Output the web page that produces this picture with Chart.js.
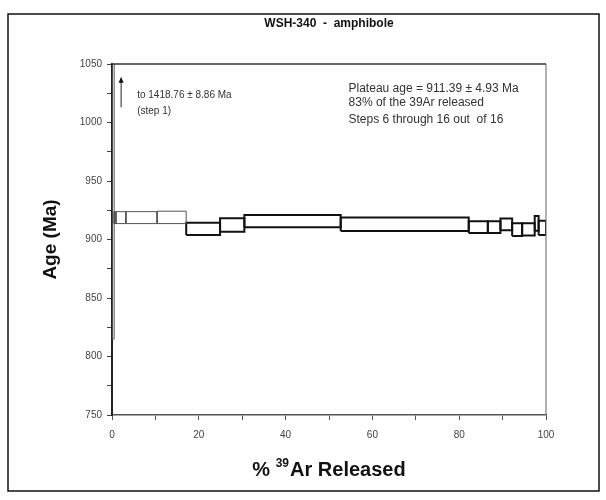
<!DOCTYPE html>
<html>
<head>
<meta charset="utf-8">
<script src="https://cdn.jsdelivr.net/npm/chart.js@4.4.0/dist/chart.umd.min.js"></script>
<style>
  html, body { margin: 0; padding: 0; background: #fff; }
</style>
</head>
<body>
<canvas id="spectrumChart" width="606" height="500"></canvas>
<script>
// cumulative % 39Ar released at the edges of the 16 heating steps
const stepEdges = [0, 0.5, 0.9, 3.2, 10.4, 17.1, 24.9, 30.5, 52.7, 82.2, 86.6, 89.5, 92.2, 94.5, 97.4, 98.3, 100];
// bottom and top of each step box (Ma)
const ageLow  = [815, 913.6, 913.6, 913.6, 913.6, 903.8, 906.7, 910.4, 907.3, 905.5, 905.5, 908.0, 903.0, 903.5, 907.5, 903.8];
const ageHigh = [1418.76, 923.8, 923.8, 923.8, 924.2, 914.4, 918.1, 921.0, 918.7, 915.5, 915.5, 918.0, 913.8, 913.8, 920.0, 916.0];
const plateauSteps = [6, 7, 8, 9, 10, 11, 12, 13, 14, 15, 16];

const xTickLabels = [0, 20, 40, 60, 80, 100];
const yTickLabels = [750, 800, 850, 900, 950, 1000, 1050];

const chartTitle = "WSH-340  -  amphibole";
const step1Note = ["to 1418.76 \u00b1 8.86 Ma", "(step 1)"];
const plateauNote = ["Plateau age = 911.39 \u00b1 4.93 Ma", "83% of the 39Ar released", "Steps 6 through 16 out  of 16"];

const FONT = '"Liberation Sans", Arial, sans-serif';

// one closed box per step
const datasets = ageLow.map((lo, i) => {
  const step = i + 1;
  const x0 = stepEdges[i], x1 = stepEdges[i + 1], hi = ageHigh[i];
  const inPlateau = plateauSteps.includes(step);
  return {
    label: "Step " + step,
    data: [{x: x0, y: lo}, {x: x1, y: lo}, {x: x1, y: hi}, {x: x0, y: hi}, {x: x0, y: lo}],
    showLine: true,
    borderColor: inPlateau ? "#111" : "#555",
    borderWidth: inPlateau ? 2 : 1,
    borderJoinStyle: "miter",
    pointRadius: 0,
    fill: false
  };
});

// frame, title, plot border, notes, arrow and x title
const decorations = {
  id: "decorations",
  afterDraw(chart) {
    const {ctx, chartArea: a, scales: {x, y}} = chart;
    ctx.save();

    // outer frame
    ctx.strokeStyle = "#111";
    ctx.lineWidth = 1.5;
    ctx.strokeRect(8, 14, 591, 477);

    // title, centred over the plot
    ctx.fillStyle = "#111";
    ctx.textAlign = "center";
    ctx.textBaseline = "middle";
    ctx.font = "bold 12px " + FONT;
    ctx.fillText(chartTitle, (a.left + a.right) / 2, 24);

    // top and right edges of plot
    ctx.strokeStyle = "#333";
    ctx.lineWidth = 1.5;
    ctx.beginPath();
    ctx.moveTo(a.left, a.top);
    ctx.lineTo(a.right, a.top);
    ctx.stroke();
    ctx.lineWidth = 1;
    ctx.strokeStyle = "#666";
    ctx.beginPath();
    ctx.moveTo(a.right, a.top);
    ctx.lineTo(a.right, a.bottom);
    ctx.stroke();

    // arrow for step 1
    const ax = x.getPixelForValue(2.1);
    const ay0 = y.getPixelForValue(1013), ay1 = y.getPixelForValue(1039);
    ctx.strokeStyle = "#222";
    ctx.lineWidth = 1;
    ctx.beginPath();
    ctx.moveTo(ax, ay0);
    ctx.lineTo(ax, ay1 + 4);
    ctx.stroke();
    ctx.fillStyle = "#111";
    ctx.beginPath();
    ctx.moveTo(ax, ay1);
    ctx.lineTo(ax - 2.5, ay1 + 6);
    ctx.lineTo(ax + 2.5, ay1 + 6);
    ctx.closePath();
    ctx.fill();

    // notes
    ctx.fillStyle = "#333";
    ctx.textBaseline = "middle";
    ctx.textAlign = "left";
    ctx.font = "10px " + FONT;
    ctx.fillText(step1Note[0], x.getPixelForValue(5.8), y.getPixelForValue(1023.5));
    ctx.fillText(step1Note[1], x.getPixelForValue(5.8), y.getPixelForValue(1010));
    ctx.font = "12px " + FONT;
    [1029.2, 1016.6, 1002.7].forEach((v, i) => {
      ctx.fillText(plateauNote[i], x.getPixelForValue(54.5), y.getPixelForValue(v));
    });

    // x title with superscript 39
    ctx.fillStyle = "#111";
    ctx.textBaseline = "alphabetic";
    const big = "bold 20px " + FONT, small = "bold 12px " + FONT;
    const p1 = "% ", p2 = "39", p3 = "Ar Released";
    ctx.font = big;
    const w1 = ctx.measureText(p1).width, w3 = ctx.measureText(p3).width;
    ctx.font = small;
    const w2 = ctx.measureText(p2).width + 1;
    let tx = (a.left + a.right) / 2 - (w1 + w2 + w3) / 2;
    const base = 476;
    ctx.font = big;
    ctx.fillText(p1, tx, base);
    ctx.font = small;
    ctx.fillText(p2, tx + w1, base - 9);
    ctx.font = big;
    ctx.fillText(p3, tx + w1 + w2, base);

    ctx.restore();
  }
};

new Chart(document.getElementById("spectrumChart"), {
  type: "scatter",
  data: { datasets: datasets },
  options: {
    responsive: false,
    animation: false,
    layout: { padding: { left: 0, right: 60, top: 64, bottom: 0 } },
    plugins: {
      legend: { display: false },
      tooltip: { enabled: false },
      title: { display: false }
    },
    scales: {
      x: {
        type: "linear",
        min: 0,
        max: 100,
        afterFit(scale) { scale.height = 85; },
        ticks: {
          stepSize: 10,
          autoSkip: false,
          maxRotation: 0,
          padding: 9,
          color: "#444",
          font: { family: FONT, size: 10 },
          callback: v => xTickLabels.includes(v) ? String(v) : ""
        },
        grid: { drawOnChartArea: false, tickLength: 5, color: "#555" },
        border: { color: "#555", width: 1.5 }
      },
      y: {
        min: 750,
        max: 1050,
        afterFit(scale) { scale.width = 112; },
        ticks: {
          stepSize: 25,
          autoSkip: false,
          padding: 5,
          color: "#444",
          font: { family: FONT, size: 10 },
          callback: v => yTickLabels.includes(v) ? String(v) : ""
        },
        grid: { drawOnChartArea: false, tickLength: 5, color: "#444" },
        border: { color: "#222", width: 2 },
        title: {
          display: true,
          text: "Age (Ma)",
          color: "#111",
          font: { family: FONT, size: 19, weight: "bold" },
          padding: { top: 39, bottom: 0 }
        }
      }
    }
  },
  plugins: [decorations]
});
</script>
</body>
</html>
